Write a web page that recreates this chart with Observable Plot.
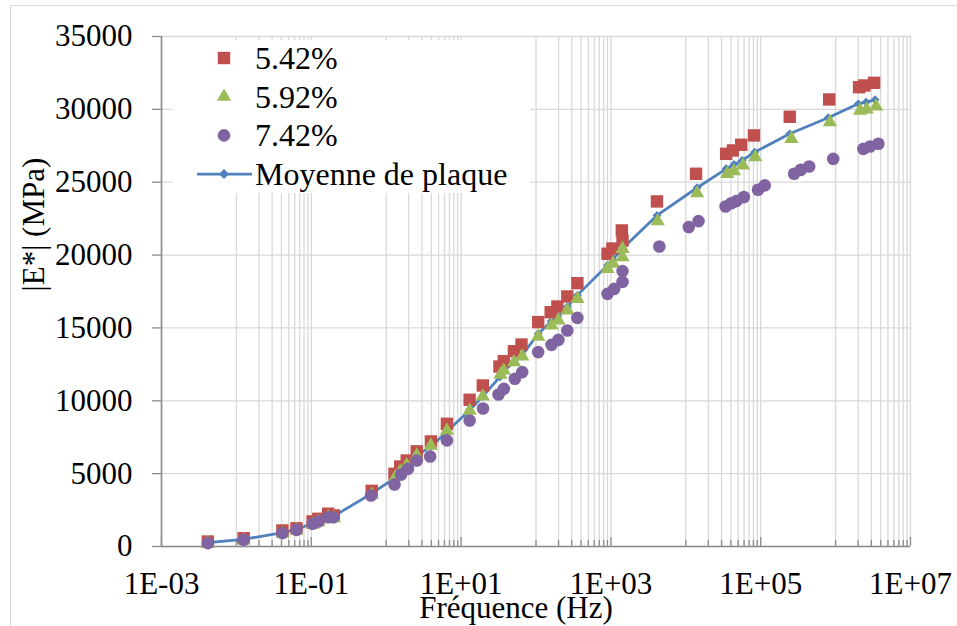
<!DOCTYPE html>
<html><head><meta charset="utf-8">
<script src="https://cdn.jsdelivr.net/npm/d3@7"></script>
<script src="https://cdn.jsdelivr.net/npm/@observablehq/plot@0.6"></script>
<style>
body{margin:0;background:#fff;}
#wrap{position:relative;width:957px;height:626px;overflow:hidden;background:#fff;}
#border{position:absolute;left:10px;top:5px;width:980px;height:660px;border-top:1.5px solid #d9d9d9;border-left:1.5px solid #d9d9d9;pointer-events:none;}
#legend{position:absolute;left:173px;top:40px;width:357px;height:153px;background:#fff;}
</style></head><body><div id="wrap"><div id="border"></div></div>
<script>
const FONT = "'Liberation Serif','Times New Roman',serif";
const seriesNames = ["5.42%", "5.92%", "7.42%", "Moyenne de plaque"];
const seriesColors = ["#C0504D", "#9BBB59", "#8064A2", "#4F81BD"];
const xTitle = "Fréquence (Hz)";
const yTitle = "|E*| (MPa)";
const xTickValues = [1e-3, 1e-1, 1e1, 1e3, 1e5, 1e7];
const yTickValues = [0, 5000, 10000, 15000, 20000, 25000, 30000, 35000];

// 5.42%
const freq542 = [0.00416, 0.0125, 0.0411, 0.0634, 0.104, 0.124, 0.168, 0.200, 0.640, 1.29, 1.54, 1.88, 2.56, 3.95, 6.47, 13.0, 19.5, 32.5, 37.2, 50.7, 64.0, 107, 157, 193, 262, 357, 902, 1047, 1400, 1430, 4121, 13710, 34590, 42560, 54950, 81280, 244300, 822000, 2056000, 2421000, 3266000];
const mod542 = [340, 570, 1100, 1250, 1720, 1900, 2250, 2130, 3820, 4990, 5490, 5900, 6530, 7210, 8420, 10070, 11050, 12350, 12720, 13400, 13860, 15400, 16080, 16470, 17160, 18070, 20090, 20450, 21690, 21000, 23680, 25580, 26950, 27180, 27570, 28210, 29490, 30680, 31520, 31640, 31820];
// 5.92%
const freq592 = [0.00416, 0.0125, 0.0411, 0.0634, 0.104, 0.124, 0.168, 0.200, 0.640, 1.32, 1.54, 1.88, 2.56, 3.95, 6.47, 13.0, 19.5, 33.5, 37.2, 50.7, 65.5, 107, 161, 199, 262, 357, 902, 1070, 1430, 1430, 4210, 14160, 35730, 43950, 57940, 84720, 257000, 841000, 2118000, 2600000, 3475000];
const mod592 = [200, 430, 880, 1100, 1500, 1680, 2000, 1950, 3550, 4760, 5150, 5600, 6250, 6930, 7960, 9330, 10300, 11800, 12080, 12650, 13040, 14410, 15170, 15510, 16200, 17000, 19060, 19420, 20430, 19860, 22330, 24250, 25580, 25760, 26150, 26720, 27980, 29120, 29920, 29990, 30200];
// 7.42%
const freq742 = [0.00416, 0.0125, 0.0411, 0.0634, 0.104, 0.124, 0.168, 0.196, 0.627, 1.29, 1.58, 1.95, 2.56, 3.86, 6.47, 13.0, 19.6, 31.6, 37.2, 52.2, 65.5, 107, 161, 199, 262, 357, 902, 1107, 1430, 1430, 4436, 10960, 14790, 33960, 40360, 47100, 59700, 92000, 113200, 279300, 343600, 443600, 929000, 2344000, 2884000, 3724000];
const mod742 = [230, 460, 915, 1140, 1560, 1720, 2010, 2010, 3500, 4260, 4940, 5330, 5900, 6180, 7280, 8650, 9470, 10430, 10820, 11510, 11970, 13340, 13840, 14180, 14820, 15690, 17340, 17680, 18900, 18160, 20590, 21920, 22330, 23330, 23560, 23700, 23980, 24480, 24780, 25580, 25850, 26080, 26600, 27290, 27450, 27640];
// Moyenne de plaque
const freqAvg = [0.00416, 0.0125, 0.0411, 0.0634, 0.104, 0.124, 0.168, 0.200, 0.640, 1.31, 1.54, 1.88, 2.56, 3.95, 6.47, 13.0, 19.5, 33.0, 37.2, 50.7, 64.7, 107, 159, 196, 262, 357, 902, 1060, 1430, 4121, 14160, 34600, 43950, 56600, 82990, 244300, 796000, 2009000, 2553000, 3365000];
const modAvg = [260, 490, 950, 1170, 1600, 1760, 2080, 2080, 3640, 4700, 5250, 5650, 6250, 6850, 7900, 9350, 10300, 11650, 12050, 12650, 13100, 14600, 15450, 15800, 16450, 17250, 19300, 19700, 20450, 22720, 24620, 25920, 26220, 26490, 27060, 28320, 29420, 30380, 30500, 30660];

const toRows = (fs, es) => fs.map((f, i) => ({f, E: es[i]}));
const s1 = toRows(freq542, mod542);
const s2 = toRows(freq592, mod592);
const s3 = toRows(freq742, mod742);
const avg = toRows(freqAvg, modAvg);

// Excel-like base-100 log axis: majors every 2 decades, minors at k*10*major
const minorGrid = [];
xTickValues.slice(0, -1).forEach(m => { for (let k = 1; k <= 9; k++) minorGrid.push(m * 10 * k); });

const fmtX = d => { const e = Math.round(Math.log10(d)); return "1E" + (e < 0 ? "-" : "+") + String(Math.abs(e)).padStart(2, "0"); };
const GRID = "#d9d9d9", AXIS = "#8c8c8c";

const chart = Plot.plot({
  width: 957, height: 626,
  marginLeft: 161, marginRight: 47, marginTop: 36, marginBottom: 80,
  style: {fontFamily: FONT, fontSize: "31px", color: "black", background: "transparent", overflow: "visible"},
  x: {type: "log", domain: [1e-3, 1e7]},
  y: {domain: [0, 35000]},
  marks: [
    Plot.ruleX(minorGrid, {stroke: GRID, strokeWidth: 1.3}),
    Plot.ruleX(xTickValues, {stroke: GRID, strokeWidth: 1.3}),
    Plot.ruleY(yTickValues, {stroke: GRID, strokeWidth: 1.3}),
    Plot.ruleX(minorGrid, {stroke: AXIS, strokeWidth: 1.3, insetTop: 504}),
    Plot.ruleX(xTickValues, {stroke: AXIS, strokeWidth: 1.3, insetTop: 501}),
    Plot.ruleY([0], {stroke: AXIS, strokeWidth: 1.6}),
    Plot.ruleX([1e-3], {stroke: AXIS, strokeWidth: 1.6}),
    Plot.axisY({ticks: yTickValues, tickSize: 9, tickPadding: 20, stroke: AXIS, strokeWidth: 1.3, fill: "black", fontSize: 31, tickFormat: d => String(d), label: null}),
    Plot.axisX({ticks: xTickValues, tickSize: 0, tickPadding: 25, fill: "black", fontSize: 31, tickFormat: fmtX, label: null}),
    Plot.line(avg, {x: "f", y: "E", stroke: seriesColors[3], strokeWidth: 2.75}),
    Plot.dot(avg, {x: "f", y: "E", symbol: "diamond2", r: 4, fill: seriesColors[3]}),
    Plot.dot(s1, {x: "f", y: "E", symbol: "square", r: 7, fill: seriesColors[0]}),
    Plot.dot(s2, {x: "f", y: "E", symbol: "triangle", r: 5.3, fill: seriesColors[1]}),
    Plot.dot(s3, {x: "f", y: "E", symbol: "circle", r: 6.3, fill: seriesColors[2]}),
    Plot.text([xTitle], {frameAnchor: "bottom", dx: -20, dy: 62, fontSize: 31, fill: "black", lineAnchor: "middle"}),
    Plot.text([yTitle], {frameAnchor: "left", dx: -127, fontSize: 31, fill: "black", rotate: -90, lineAnchor: "middle"})
  ]
});
const wrap = document.getElementById("wrap");
wrap.insertBefore(chart, wrap.firstChild);
chart.style.position = "absolute"; chart.style.left = "0px"; chart.style.top = "0px";

// Legend overlay (inside plot area, white box hiding gridlines)
const lg = d3.select(wrap).append("div").attr("id", "legend")
  .append("svg").attr("width", 357).attr("height", 153).style("font-family", FONT);
const symbols = [
  {name: seriesNames[0], color: seriesColors[0], sym: d3.symbolSquare, size: Math.PI * 7 * 7},
  {name: seriesNames[1], color: seriesColors[1], sym: d3.symbolTriangle, size: Math.PI * 5.3 * 5.3},
  {name: seriesNames[2], color: seriesColors[2], sym: d3.symbolCircle, size: Math.PI * 6.3 * 6.3},
  {name: seriesNames[3], color: seriesColors[3], sym: d3.symbolDiamond2, size: Math.PI * 4.5 * 4.5, line: true}
];
symbols.forEach((s, i) => {
  const cy = 18 + i * 38.7;
  const g = lg.append("g");
  if (s.line) g.append("line").attr("x1", 24).attr("x2", 79).attr("y1", cy).attr("y2", cy).attr("stroke", s.color).attr("stroke-width", 2.75);
  g.append("path").attr("d", d3.symbol(s.sym, s.size)()).attr("transform", `translate(51,${cy})`).attr("fill", s.color);
  g.append("text").attr("x", 82).attr("y", cy + 11).attr("font-size", 32).attr("fill", "black").text(s.name);
});
</script></body></html>
